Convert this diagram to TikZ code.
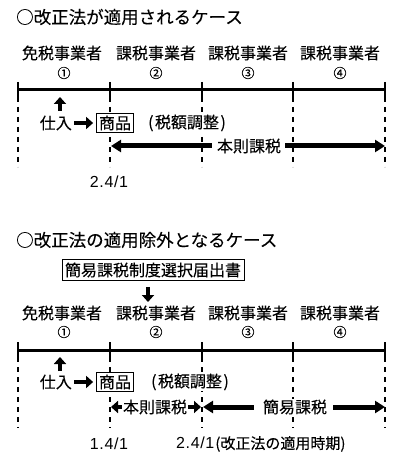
\documentclass[tikz,border=0pt]{standalone}
\usepackage{fontspec}
\setmainfont[FakeBold=0.12]{Noto Sans CJK JP}
\newfontfamily\arialf{Liberation Sans}
\usetikzlibrary{arrows.meta}
\tikzset{
  x=1pt, y=-1pt,
  tl/.style={line width=3pt},
  tick/.style={line width=2.2pt},
  dsh/.style={line width=1.6pt, dash pattern=on 5pt off 5pt},
  lbl/.style={font=\fontsize{16}{16}\selectfont, inner sep=0pt},
  num/.style={font=\fontsize{13}{13}\selectfont, inner sep=0pt},
  ttl/.style={font=\fontsize{17.5}{17.5}\selectfont, inner sep=0pt, anchor=west},
  txt/.style={font=\fontsize{16}{16}\selectfont, inner sep=1pt, fill=white},
  boxed/.style={draw, line width=0.8pt, fill=white, inner sep=2.5pt},
  datef/.style={font=\arialf\fontsize{16}{16}\selectfont\addfontfeatures{LetterSpace=4}, inner sep=0pt},
  bigarr/.style={line width=5pt, -{Triangle[length=10pt,width=12pt]}},
  bigarrl/.style={line width=5pt, {Triangle[length=10pt,width=12pt]}-},
  blk/.style={line width=4.5pt, -{Triangle[length=7pt,width=12pt]}},
  blkl/.style={line width=4.5pt, {Triangle[length=7pt,width=12pt]}-},
}
\begin{document}
\begin{tikzpicture}
\useasboundingbox (0,0) rectangle (400,462);
\fill[white] (0,0) rectangle (400,462);

% ================= TOP =================
\node[ttl] (t1) at (16,17) {○改正法が適用されるケース};
\foreach \i/\x in {1/18,2/110,3/202,4/293,5/385}{
  \coordinate (a\i) at (\x,90);
  \coordinate (au\i) at (\x,82);
  \coordinate (ad\i) at (\x,97);
  \coordinate (ae\i) at (\x,167);
}
\draw[tl] (a1) -- (a5);
\foreach \i in {1,...,5}{
  \draw[tick] (au\i) -- (ad\i);
  \draw[dsh] (ad\i) -- (ae\i);
}
\node[lbl] (l1) at (62,53) {免税事業者};
\node[lbl] (l2) at (156,53) {課税事業者};
\node[lbl] (l3) at (248,53) {課税事業者};
\node[lbl] (l4) at (340,53) {課税事業者};
\node[num] (n1) at (64,73) {①};
\node[num] (n2) at (156,73) {②};
\node[num] (n3) at (248,73) {③};
\node[num] (n4) at (340,73) {④};

\coordinate (up1a) at (60,111);
\coordinate (up1b) at (60,97);
\draw[blk] (up1a) -- (up1b);

\node[txt, anchor=east] (sire1) at (73,123) {仕入};
\node[boxed, font=\fontsize{16}{16}\selectfont] (sho1) at (115,123) {商品};
\draw[blk] ([xshift=1pt]sire1.east) -- ([xshift=-3pt]sho1.west);
\node[txt] (adj1) at (187,123) {(\hspace{1.5pt}税額調整\hspace{1.5pt})};

\node[txt] (hon1) at (249,146) {本則課税};
\coordinate (hl1) at (111,146);
\coordinate (hr1) at (385,146);
\draw[bigarrl] (hl1) -- ([xshift=-4pt]hon1.west);
\draw[bigarr] ([xshift=3pt]hon1.east) -- (hr1);

\node[datef] (d1) at (109,182) {2.4/1};

% ================= BOTTOM =================
\node[ttl] (t2) at (16,240) {○改正法の適用除外となるケース};
\node[boxed, font=\fontsize{16}{16}\selectfont, inner sep=3pt] (kan) at (153,270) {簡易課税制度選択届出書};
\coordinate (dn) at (148,302);
\draw[blk] ([yshift=-6pt]kan.south -| dn) -- (dn);

\foreach \i/\x in {1/18,2/110,3/202,4/293,5/385}{
  \coordinate (b\i) at (\x,350);
  \coordinate (bu\i) at (\x,342);
  \coordinate (bd\i) at (\x,357);
  \coordinate (be\i) at (\x,428);
}
\draw[tl] (b1) -- (b5);
\foreach \i in {1,...,5}{
  \draw[tick] (bu\i) -- (bd\i);
  \draw[dsh] (bd\i) -- (be\i);
}
\node[lbl] (m1) at (62,313) {免税事業者};
\node[lbl] (m2) at (156,313) {課税事業者};
\node[lbl] (m3) at (248,313) {課税事業者};
\node[lbl] (m4) at (340,313) {課税事業者};
\node[num] (k1) at (64,332) {①};
\node[num] (k2) at (156,332) {②};
\node[num] (k3) at (248,332) {③};
\node[num] (k4) at (340,332) {④};

\coordinate (up2a) at (60,371);
\coordinate (up2b) at (60,357);
\draw[blk] (up2a) -- (up2b);

\node[txt, anchor=east] (sire2) at (73,382) {仕入};
\node[boxed, font=\fontsize{16}{16}\selectfont] (sho2) at (115,382) {商品};
\draw[blk] ([xshift=1pt]sire2.east) -- ([xshift=-3pt]sho2.west);
\node[txt] (adj2) at (190,382) {(\hspace{1.5pt}税額調整\hspace{1.5pt})};

\node[txt, inner sep=0pt] (hon2) at (155,407) {本則課税};
\coordinate (hl2) at (111,407);
\coordinate (hm2) at (201,407);
\coordinate (hm2b) at (203,407);
\coordinate (hr2) at (385,407);
\draw[blkl, line width=3.5pt] (hl2) -- ([xshift=-1pt]hon2.west);
\draw[blk, line width=3.5pt] ([xshift=1pt]hon2.east) -- (hm2);
\node[txt] (kani) at (295,407) {簡易課税};
\draw[bigarrl] (hm2b) -- ([xshift=-8pt]kani.west);
\draw[bigarr] ([xshift=5pt]kani.east) -- (hr2);

\node[datef] (d2) at (109,444) {1.4/1};
\node[inner sep=0pt, anchor=west] (d3) at (176,444) {{\arialf\fontsize{16}{16}\selectfont\addfontfeatures{LetterSpace=4}2.4/1}{\fontsize{15}{15}\selectfont\hspace{1pt}(改正法の適用時期)}};
\end{tikzpicture}
\end{document}
